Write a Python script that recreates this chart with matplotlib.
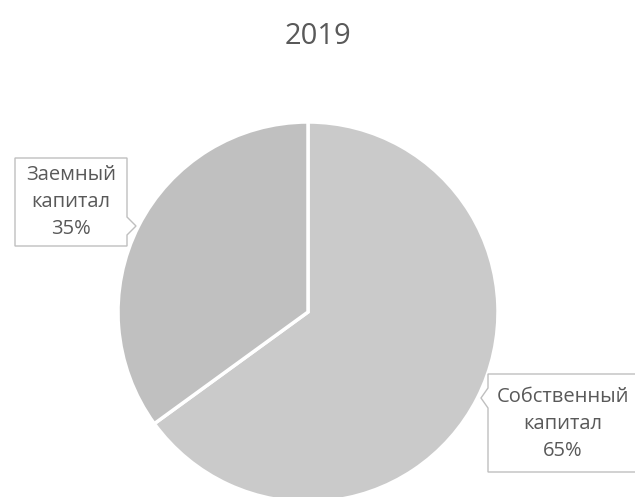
import matplotlib.pyplot as plt
from matplotlib.patches import Polygon

plt.rcParams['font.family'] = ['Open Sans', 'DejaVu Sans']

title = "2019"
labels = ["Собственный\nкапитал", "Заемный\nкапитал"]
shares = [65, 35]
colors = ["#cacaca", "#c0c0c0"]

W, H = 635, 497
fig = plt.figure(figsize=(W / 100, H / 100), dpi=100)
ax = fig.add_axes([0, 0, 1, 1])

# pie in pixel units, y measured from the bottom
cx, cy, r = 308, H - 312, 190
wedges, _ = ax.pie(shares, colors=colors, startangle=90, counterclock=False,
                   center=(cx, cy), radius=r,
                   wedgeprops=dict(edgecolor="white", linewidth=2.5))
ax.set_xlim(0, W)
ax.set_ylim(0, H)
ax.set_aspect("equal")
ax.axis("off")

fig.text(0.5, 1 - 36 / H, title, ha="center", va="center",
         fontsize=21, color="#595959")


def callout(left, top, right, bottom, side, tip, ptr_y0, ptr_y1):
    # rectangle with a small arrow tip on the side facing the pie
    tx, ty = tip
    if side == "right":
        pts = [(left, top), (right, top), (right, ptr_y0), (tx, ty),
               (right, ptr_y1), (right, bottom), (left, bottom)]
    else:
        pts = [(left, top), (right, top), (right, bottom), (left, bottom),
               (left, ptr_y1), (tx, ty), (left, ptr_y0)]
    pts = [(x, H - y) for x, y in pts]
    ax.add_patch(Polygon(pts, closed=True, facecolor="white",
                         edgecolor="#bfbfbf", linewidth=1.0, zorder=5,
                         clip_on=False))


# Заемный капитал
callout(15, 158, 127, 246, "right", (136, 226), 217, 235)
ax.text(71, H - 202, f"{labels[1]}\n{shares[1]}%", ha="center", va="center",
        fontsize=14.5, color="#595959", linespacing=1.45, zorder=6)

# Собственный капитал
callout(488, 374, 640, 472, "left", (481, 398), 388, 408)
ax.text(563, H - 424, f"{labels[0]}\n{shares[0]}%", ha="center", va="center",
        fontsize=14.5, color="#595959", linespacing=1.5, zorder=6)

fig.savefig("out.png", dpi=100, facecolor="white")
